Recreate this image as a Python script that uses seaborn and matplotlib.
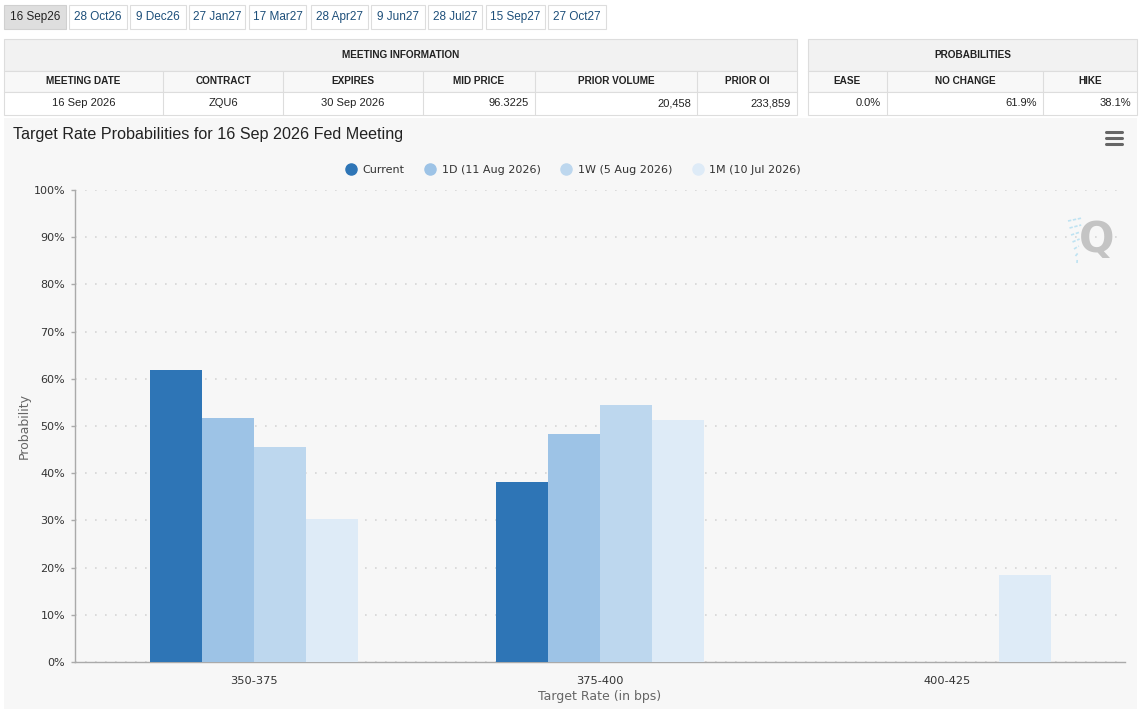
import numpy as np
import pandas as pd
import matplotlib
matplotlib.use("Agg")
import matplotlib.pyplot as plt
from matplotlib.patches import Rectangle
from matplotlib.lines import Line2D
import seaborn as sns

W, H = 1145, 709

# ---- data ----
tabs = ["16 Sep26", "28 Oct26", "9 Dec26", "27 Jan27", "17 Mar27",
        "28 Apr27", "9 Jun27", "28 Jul27", "15 Sep27", "27 Oct27"]
meeting_cols = ["MEETING DATE", "CONTRACT", "EXPIRES", "MID PRICE", "PRIOR VOLUME", "PRIOR OI"]
meeting_vals = ["16 Sep 2026", "ZQU6", "30 Sep 2026", "96.3225", "20,458", "233,859"]
prob_cols = ["EASE", "NO CHANGE", "HIKE"]
prob_vals = ["0.0%", "61.9%", "38.1%"]

rates = ["350-375", "375-400", "400-425"]
series = ["Current", "1D (11 Aug 2026)", "1W (5 Aug 2026)", "1M (10 Jul 2026)"]
current = [61.9, 38.1, 0.0]
one_day = [51.6, 48.4, 0.0]
one_week = [45.5, 54.5, 0.0]
one_month = [30.3, 51.2, 18.5]
colors = ["#2e75b6", "#9dc3e6", "#bdd7ee", "#deebf7"]

df = pd.DataFrame({
    "rate": rates * 4,
    "series": np.repeat(series, 3),
    "prob": current + one_day + one_week + one_month,
})


def fx(x):
    return x / W


def fy(y):
    return 1 - y / H


def box(fig, x0, y0, x1, y1, fc="white", ec="#dddddd", lw=0.8, z=1):
    fig.add_artist(Rectangle((fx(x0), fy(y1)), (x1 - x0) / W, (y1 - y0) / H,
                             transform=fig.transFigure, facecolor=fc,
                             edgecolor=ec, linewidth=lw, zorder=z))


def table(fig, x_edges, title, cols, vals, aligns):
    x0, x1 = x_edges[0], x_edges[-1]
    box(fig, x0, 39, x1, 71, fc="#f2f2f2")
    box(fig, x0, 71, x1, 92, fc="#f8f8f8")
    box(fig, x0, 92, x1, 115, fc="white")
    fig.text(fx((x0 + x1) / 2), fy(55), title, ha="center", va="center",
             fontsize=7.2, fontweight="bold", color="#222222")
    for i, (c, v, a) in enumerate(zip(cols, vals, aligns)):
        a0, a1 = x_edges[i], x_edges[i + 1]
        if i > 0:
            fig.add_artist(Line2D([fx(a0), fx(a0)], [fy(71), fy(115)],
                                  transform=fig.transFigure, color="#dddddd", lw=0.8))
        fig.text(fx((a0 + a1) / 2), fy(81.5), c, ha="center", va="center",
                 fontsize=7.2, fontweight="bold", color="#222222")
        if a == "center":
            fig.text(fx((a0 + a1) / 2), fy(103), v, ha="center", va="center",
                     fontsize=8, color="#222222")
        else:
            fig.text(fx(a1 - 6), fy(103), v, ha="right", va="center",
                     fontsize=8, color="#222222")


sns.set_theme(style="white")
plt.rcParams["font.family"] = ["Liberation Sans", "DejaVu Sans"]

fig = plt.figure(figsize=(W / 100, H / 100), dpi=100)
fig.patch.set_facecolor("white")

# tabs row
tab_edges = [(4, 66), (69, 127), (130, 186), (189, 245), (249, 306),
             (311, 368), (371, 425), (428, 482), (486, 545), (548, 606)]
for i, (t, (a, b)) in enumerate(zip(tabs, tab_edges)):
    box(fig, a, 5, b, 29, fc="#dedede" if i == 0 else "white",
        ec="#d0d0d0" if i == 0 else "#dddddd")
    fig.text(fx((a + b) / 2), fy(17), t, ha="center", va="center", fontsize=8.5,
             color="#222222" if i == 0 else "#1d4f7a")

table(fig, [4, 163, 283, 423, 535, 697, 797], "MEETING INFORMATION",
      meeting_cols, meeting_vals, ["center", "center", "center", "right", "right", "right"])
table(fig, [808, 887, 1043, 1137], "PROBABILITIES",
      prob_cols, prob_vals, ["right", "right", "right"])

# chart background
fig.add_artist(Rectangle((fx(4), 0), (1137 - 4) / W, fy(118), transform=fig.transFigure,
                         facecolor="#f7f7f7", edgecolor="none", zorder=-10))

fig.text(fx(13), fy(134), "Target Rate Probabilities for 16 Sep 2026 Fed Meeting",
         ha="left", va="center", fontsize=11.6, color="#222222")

# menu icon
for yy in (132, 138, 144):
    fig.add_artist(Line2D([fx(1106), fx(1122)], [fy(yy), fy(yy)], transform=fig.transFigure,
                          color="#666666", lw=2.2, solid_capstyle="round"))

# watermark Q
fig.text(fx(1097), fy(240), "Q", ha="center", va="center", fontsize=30,
         fontweight="bold", color="#c4c4c4", family="DejaVu Sans")
for k in range(7):
    yy = 218 + k * 7
    fig.add_artist(Line2D([fx(1068 + k * 1.5), fx(1082 - k * 0.8)], [fy(yy + 3), fy(yy)],
                          transform=fig.transFigure, color="#bfe3f2", lw=1.2, ls=(0, (2, 1))))

ax = fig.add_axes([fx(75), fy(662), (1125 - 75) / W, (662 - 190) / H])
ax.set_facecolor("none")
sns.barplot(data=df, x="rate", y="prob", hue="series", hue_order=series,
            palette=colors, saturation=1, width=0.6, gap=0, ax=ax,
            legend=False, errorbar=None, zorder=3, linewidth=0, edgecolor="none")

ax.set_ylim(0, 100)
ax.set_xlim(-0.515, 2.514)
ax.set_yticks(np.arange(0, 101, 10))
ax.set_yticklabels([f"{v}%" for v in range(0, 101, 10)], family="DejaVu Sans",
                   fontsize=8, color="#333333")
ax.set_xticks(range(len(rates)))
ax.set_xticklabels(rates, family="DejaVu Sans", fontsize=8.2, color="#333333")
ax.yaxis.grid(True, color="#d6d6d6", linestyle=(0, (1, 5)), linewidth=1.2)
ax.set_axisbelow(True)
for s in ("top", "right"):
    ax.spines[s].set_visible(False)
for s in ("left", "bottom"):
    ax.spines[s].set_color("#aaaaaa")
    ax.spines[s].set_linewidth(1)
ax.tick_params(axis="x", length=8, color="#cccccc", width=1, pad=2, direction="out")
ax.tick_params(axis="y", length=3, color="#aaaaaa", width=1, pad=4, left=True)
ax.set_xlabel("Target Rate (in bps)", family="DejaVu Sans", fontsize=9, color="#666666",
              labelpad=3)
ax.set_ylabel("Probability", family="DejaVu Sans", fontsize=9, color="#666666", labelpad=2)

handles = [Line2D([], [], lw=0, marker="o", markersize=8, color=c) for c in colors]
fig.legend(handles, series, loc="center", bbox_to_anchor=(fx(573), fy(170)), ncol=4,
           frameon=False, prop={"family": "DejaVu Sans", "size": 8}, labelcolor="#333333",
           handletextpad=0.55, columnspacing=1.8, handlelength=1.0)

fig.savefig("out.png", dpi=100)
